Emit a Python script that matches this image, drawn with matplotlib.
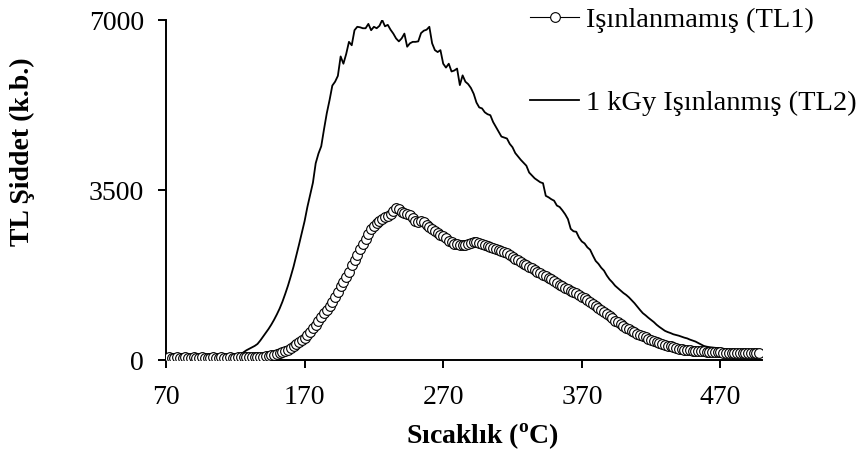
import numpy as np
import matplotlib
matplotlib.use("Agg")
import matplotlib.pyplot as plt

# Sıcaklık ekseni (2 °C adım)
sicaklik = np.arange(70, 500, 2)

# Işınlanmamış (TL1)
tl1 = [
    # 70-118
    45, 55, 40, 50, 60, 45, 35, 55, 50, 40, 60, 45, 50, 55, 40, 50, 45, 60, 50, 45,
    55, 40, 50, 55, 45,
    # 120-158
    50, 52, 54, 56, 58, 60, 62, 64, 66, 68, 72, 80, 90, 100, 110, 122, 137, 160, 185, 215,
    # 160-198
    245, 280, 320, 365, 410, 460, 520, 580, 650, 720, 800, 880, 960, 1030, 1110, 1200, 1300, 1410, 1530, 1610,
    # 200-238
    1700, 1820, 1950, 2060, 2170, 2280, 2380, 2490, 2600, 2690, 2760, 2820, 2870, 2910, 2940, 2975, 3010, 3060, 3120, 3110,
    # 240-278
    3050, 3020, 3000, 2985, 2930, 2870, 2850, 2860, 2850, 2770, 2730, 2690, 2650, 2620, 2580, 2550, 2510, 2460, 2420, 2390,
    # 280-318
    2380, 2370, 2360, 2370, 2390, 2410, 2430, 2436, 2410, 2390, 2370, 2350, 2320, 2300, 2280, 2260, 2240, 2220, 2200, 2160,
    # 320-358
    2120, 2080, 2050, 2010, 1980, 1950, 1925, 1890, 1850, 1810, 1784, 1760, 1720, 1690, 1665, 1630, 1590, 1550, 1515, 1490,
    # 360-398
    1460, 1430, 1400, 1375, 1340, 1300, 1270, 1230, 1200, 1160, 1120, 1080, 1030, 995, 950, 900, 860, 810, 780, 740,
    # 400-438
    700, 660, 630, 600, 570, 540, 510, 485, 465, 440, 415, 390, 370, 350, 330, 310, 295, 280, 262, 245,
    # 440-478
    235, 225, 215, 207, 200, 193, 188, 184, 180, 177, 173, 171, 168, 165, 160, 157, 154, 151, 148, 145,
    # 480-498
    143, 141, 139, 137, 136, 135, 135, 136, 136, 137,
]

# 1 kGy Işınlanmış (TL2)
tl2 = [
    # 70-118
    40, 50, 35, 45, 55, 40, 50, 45, 35, 50, 55, 45, 40, 50, 60, 45, 50, 40, 55, 50,
    45, 60, 55, 50, 65,
    # 120-158
    70, 85, 120, 160, 200, 230, 260, 290, 330, 400, 480, 560, 640, 730, 830, 940, 1060, 1200, 1360, 1530,
    # 160-198
    1720, 1920, 2150, 2380, 2620, 2860, 3150, 3400, 3650, 4050, 4250, 4400, 4750, 5080, 5350, 5650, 5730, 5850, 6250, 6100,
    # 200-238
    6300, 6550, 6480, 6790, 6860, 6850, 6830, 6830, 6920, 6790, 6860, 6830, 6880, 7000, 6870, 6900, 6800, 6720, 6620, 6560,
    # 240-278
    6620, 6720, 6450, 6520, 6550, 6550, 6560, 6730, 6780, 6800, 6860, 6520, 6380, 6340, 6380, 6100, 6020, 6100, 5940, 5960,
    # 280-318
    6000, 5660, 5860, 5730, 5680, 5600, 5480, 5300, 5200, 5180, 5100, 5060, 5040, 4900, 4800, 4700, 4600, 4580, 4560, 4450,
    # 320-358
    4380, 4260, 4190, 4120, 4060, 4000, 3860, 3800, 3740, 3700, 3660, 3640, 3380, 3350, 3310, 3280, 3180, 3150, 3080, 3000,
    # 360-398
    2900, 2700, 2650, 2640, 2520, 2440, 2400, 2320, 2270, 2150, 2040, 1980, 1900, 1840, 1740, 1660, 1600, 1530, 1480, 1430,
    # 400-438
    1380, 1340, 1290, 1230, 1170, 1100, 1030, 965, 920, 870, 825, 780, 725, 680, 640, 600, 575, 555, 530, 515,
    # 440-478
    500, 480, 460, 445, 420, 400, 380, 350, 320, 290, 275, 265, 258, 250, 245, 240, 232, 225, 215, 208,
    # 480-498
    205, 195, 185, 178, 172, 170, 168, 165, 160, 145,
]

x_ticks = [70, 170, 270, 370, 470]
y_ticks = [0, 3500, 7000]

plt.rcParams['font.family'] = ['Liberation Serif', 'DejaVu Serif']
plt.rcParams['mathtext.fontset'] = 'custom'
plt.rcParams['mathtext.rm'] = 'Liberation Serif'
plt.rcParams['mathtext.bf'] = 'Liberation Serif:bold'

fig = plt.figure(figsize=(8.6, 4.58), dpi=100)
ax = fig.add_axes([166 / 860, 98 / 458, 596 / 860, 340 / 458])

ax.plot(sicaklik, tl2, color='black', lw=1.3, zorder=2, label='1 kGy Işınlanmış (TL2)')
ax.plot(sicaklik, tl1, color='black', lw=0.8, marker='o', markersize=7,
        markerfacecolor='white', markeredgecolor='black', markeredgewidth=0.8,
        zorder=3, label='Işınlanmamış (TL1)')

ax.set_xlim(70, 500)
ax.set_ylim(0, 7000)
ax.set_xticks(x_ticks)
ax.set_yticks(y_ticks)
ax.spines['top'].set_visible(False)
ax.spines['right'].set_visible(False)
for s in ['left', 'bottom']:
    ax.spines[s].set_linewidth(1.4)
ax.tick_params(axis='both', direction='out', length=6, width=1.4, labelsize=20)
ax.tick_params(axis='x', pad=12)
ax.tick_params(axis='y', pad=10)

fig.text(482 / 860, 1 - 437 / 458, 'Sıcaklık ($^{\\mathbf{o}}$C)', fontsize=20,
         fontweight='bold', ha='center', va='center')
fig.text(22 / 860, 1 - 152 / 458, 'TL Şiddet (k.b.)', fontsize=20,
         fontweight='bold', ha='center', va='center', rotation=90)

handles, labels = ax.get_legend_handles_labels()
fig.legend(handles[::-1], labels[::-1], loc='upper left',
           bbox_to_anchor=(519 / 860, 1.01), frameon=False, fontsize=20.5,
           handlelength=1.7, handletextpad=0.25, labelspacing=2.0, borderaxespad=0)

fig.savefig('out.png', dpi=100)
